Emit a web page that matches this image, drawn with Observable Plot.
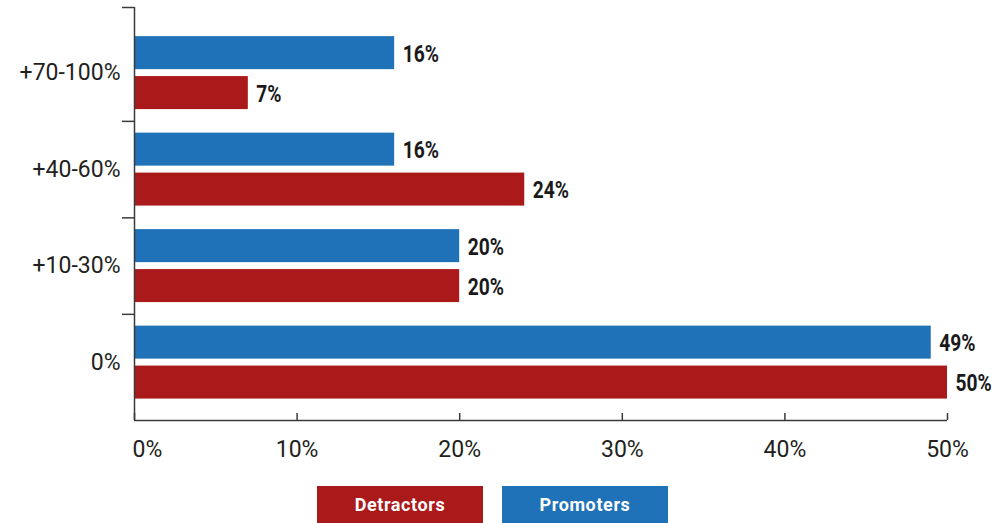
<!DOCTYPE html>
<html><head><meta charset="utf-8">
<script src="https://cdn.jsdelivr.net/npm/d3@7"></script>
<script src="https://cdn.jsdelivr.net/npm/@observablehq/plot@0.6"></script>
<style>
body{margin:0;background:#fff;font-family:Roboto,"Noto Sans",sans-serif;}
#legend{display:flex;gap:19px;margin-left:317px;margin-top:16px;}
#legend div{width:166px;height:37px;color:#fff;font-weight:bold;font-size:18px;letter-spacing:0.6px;display:flex;align-items:center;justify-content:center;font-family:Roboto,sans-serif;}
</style></head>
<body><div id="chart"></div><div id="legend"></div>
<script>
const categories = ["+70-100%", "+40-60%", "+10-30%", "0%"];
const promoters = [16, 16, 20, 49];
const detractors = [7, 24, 20, 50];
const seriesNames = ["Detractors", "Promoters"];
const seriesColors = {Detractors: "#ab1a1a", Promoters: "#1f71b8"};
const xTicks = [0, 10, 20, 30, 40, 50];
const groupBoundaries = [-0.68, 0.5, 1.5, 2.5];

const rows = [];
categories.forEach((c, i) => {
  rows.push({cat: c, i, series: "Promoters", value: promoters[i], y1: i - 0.378, y2: i - 0.036});
  rows.push({cat: c, i, series: "Detractors", value: detractors[i], y1: i + 0.036, y2: i + 0.378});
});

const axisColor = "#3a3a3a";

const plot = Plot.plot({
  width: 997, height: 470,
  marginLeft: 134, marginRight: 50, marginTop: 7, marginBottom: 50,
  style: {fontFamily: "Roboto, sans-serif", color: "#231f20", background: "#fff"},
  x: {domain: [0, 50]},
  y: {domain: [-0.68, 3.6], reverse: true},
  marks: [
    Plot.rect(rows, {x1: 0, x2: "value", y1: "y1", y2: "y2", fill: d => seriesColors[d.series]}),
    Plot.text(rows, {x: "value", y: d => (d.y1 + d.y2) / 2, text: d => d.value + "%", textAnchor: "start", dx: 8, dy: 1, fontSize: 24, fontWeight: "bold", fill: "#1a1a1a", className: "vlabel"}),
    Plot.ruleX([0], {stroke: axisColor, strokeWidth: 1.5}),
    Plot.ruleY([3.6], {stroke: axisColor, strokeWidth: 1.5}),
    Plot.axisY({ticks: [0, 1, 2, 3], tickFormat: i => categories[i], tickSize: 0, tickPadding: 14, fontSize: 23, label: null}),
    Plot.axisY({ticks: groupBoundaries, tickFormat: () => "", tickSize: 12, stroke: axisColor, strokeWidth: 1.5, label: null}),
    Plot.axisX({ticks: xTicks, tickFormat: () => "", tickSize: -7, stroke: axisColor, strokeWidth: 1.5, label: null}),
    Plot.axisX({ticks: xTicks.slice(0, 1), tickFormat: d => d + "%", tickSize: 0, tickPadding: 20, fontSize: 23, textAnchor: "start", dx: -2, label: null}),
    Plot.axisX({ticks: xTicks.slice(1), tickFormat: d => d + "%", tickSize: 0, tickPadding: 20, fontSize: 23, label: null})
  ]
});
document.getElementById("chart").appendChild(plot);

// condense the bold value labels horizontally (the reference uses a condensed face)
d3.selectAll(".vlabel text").each(function() {
  const bb = this.getBBox();
  const t = this.getAttribute("transform") || "";
  this.setAttribute("transform", `${t} translate(${bb.x},0) scale(0.8,1) translate(${-bb.x},0)`);
});

const legend = document.getElementById("legend");
seriesNames.forEach(s => {
  const d = document.createElement("div");
  d.style.background = seriesColors[s];
  d.textContent = s;
  legend.appendChild(d);
});
</script></body></html>
